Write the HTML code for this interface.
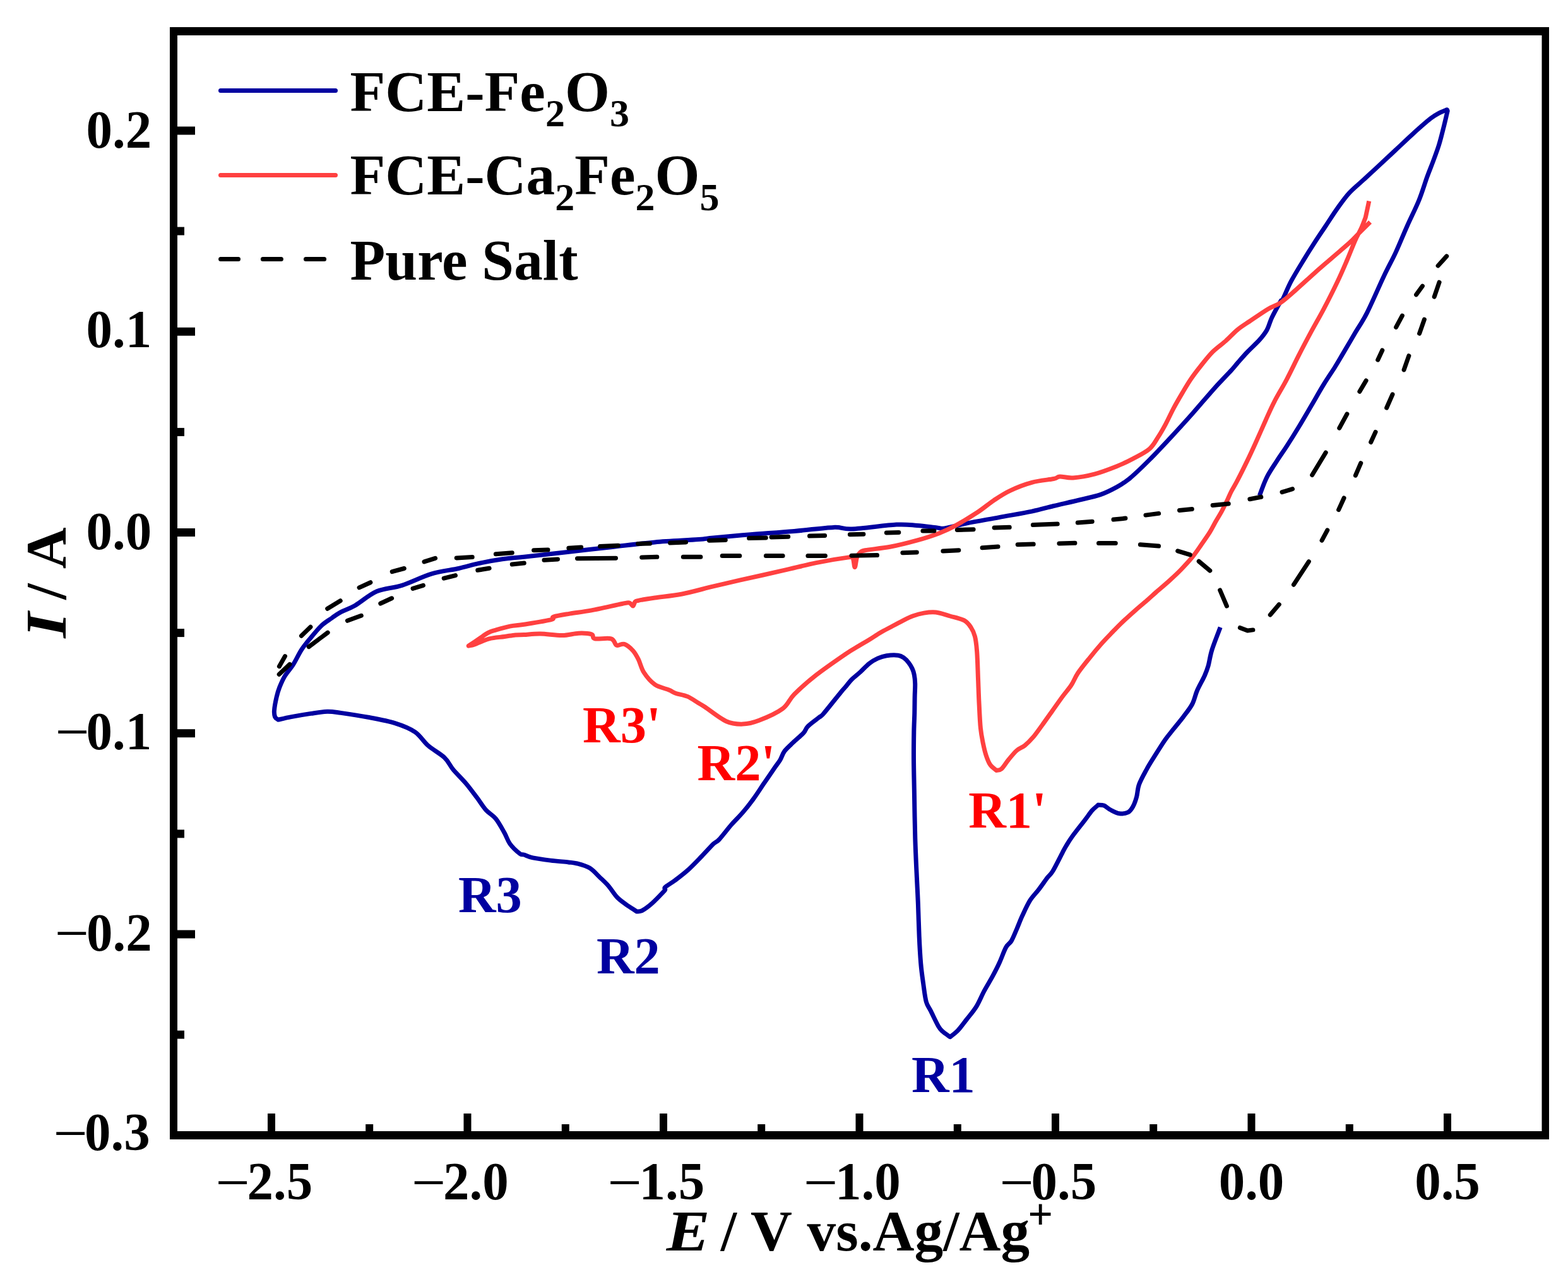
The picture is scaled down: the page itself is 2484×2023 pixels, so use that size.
<!DOCTYPE html><html><head><meta charset="utf-8"><title>CV curves</title><style>html,body{margin:0;padding:0;background:#fff;}svg{display:block;}</style></head><body>
<svg xmlns="http://www.w3.org/2000/svg" width="2484" height="2023" viewBox="0 0 2484 2023">
<rect x="0" y="0" width="2484" height="2023" fill="#fff"/>
<path d="M1995.3,785.2 C1997.2,780.3 2002.4,764.9 2007.0,755.8 C2011.6,746.7 2017.5,738.5 2022.7,730.4 C2027.9,722.2 2032.5,716.0 2038.4,706.9 C2044.3,697.8 2051.5,686.3 2058.0,675.5 C2064.5,664.7 2071.1,653.3 2077.6,642.2 C2084.1,631.1 2090.9,619.0 2097.1,608.9 C2103.3,598.8 2109.9,589.3 2114.8,581.5 C2119.7,573.7 2121.3,570.7 2126.5,561.9 C2131.7,553.1 2139.6,539.7 2146.1,528.6 C2152.6,517.5 2157.9,510.7 2165.7,495.3 C2173.5,479.9 2185.2,452.4 2192.8,436.5 C2200.4,420.6 2205.1,412.8 2211.2,399.6 C2217.3,386.4 2223.4,371.0 2229.6,357.2 C2235.8,343.4 2242.9,329.6 2248.1,316.7 C2253.3,303.8 2257.3,289.9 2261.0,279.8 C2264.7,269.7 2267.1,264.2 2270.2,255.9 C2273.3,247.6 2276.6,238.9 2279.4,230.0 C2282.2,221.1 2284.5,211.5 2286.8,202.4 C2289.1,193.3 2292.1,180.1 2293.2,175.7 C2293.0,175.4 2292.5,174.1 2292.3,173.8 C2290.5,174.6 2285.5,176.1 2281.2,178.4 C2276.9,180.7 2273.6,182.1 2266.5,187.6 C2259.4,193.1 2248.0,203.3 2238.8,211.6 C2229.6,219.9 2220.4,228.8 2211.2,237.4 C2202.0,246.0 2192.1,255.2 2183.5,263.2 C2174.9,271.2 2167.3,278.2 2159.6,285.3 C2151.9,292.4 2144.3,298.2 2137.5,305.6 C2130.7,313.0 2125.2,321.0 2119.0,329.6 C2112.8,338.2 2106.7,348.0 2100.6,357.2 C2094.5,366.4 2088.3,375.4 2082.2,384.9 C2076.0,394.4 2069.8,404.3 2063.7,414.4 C2057.5,424.5 2050.5,435.9 2045.3,445.7 C2040.1,455.5 2035.2,468.1 2032.4,473.4 C2029.6,478.7 2031.5,472.7 2028.6,477.6 C2025.7,482.6 2018.5,495.6 2014.9,503.1 C2011.3,510.6 2010.3,516.8 2007.0,522.7 C2003.7,528.6 2000.5,532.5 1995.3,538.4 C1990.1,544.3 1981.6,551.8 1975.7,558.0 C1969.8,564.2 1964.2,570.8 1960.0,575.6 C1955.8,580.4 1956.5,580.2 1950.6,586.7 C1944.7,593.2 1934.7,603.1 1924.6,614.3 C1914.5,625.5 1901.6,641.0 1890.1,654.0 C1878.6,667.0 1867.0,679.7 1855.5,692.1 C1844.0,704.5 1831.9,717.5 1821.0,728.4 C1810.1,739.3 1798.6,750.5 1789.9,757.7 C1781.2,764.9 1776.9,767.3 1769.1,771.6 C1761.3,775.9 1753.0,780.2 1743.2,783.6 C1733.4,787.0 1722.3,789.0 1710.0,792.0 C1697.7,795.0 1681.8,798.5 1669.2,801.5 C1656.6,804.5 1649.0,807.1 1634.6,810.1 C1620.2,813.1 1600.1,816.4 1582.8,819.6 C1565.5,822.8 1545.4,826.2 1531.0,829.1 C1516.6,832.0 1504.2,835.8 1496.4,836.9 C1488.6,838.0 1491.5,836.7 1484.3,836.0 C1477.1,835.3 1463.9,833.4 1453.2,832.6 C1442.5,831.8 1437.2,830.2 1420.0,831.1 C1402.8,832.0 1366.4,837.3 1349.8,838.0 C1333.2,838.7 1335.7,834.8 1320.4,835.4 C1305.1,836.0 1280.1,839.6 1258.2,841.5 C1236.3,843.4 1210.5,845.0 1189.1,846.7 C1167.7,848.5 1143.8,850.7 1130.0,852.0 C1116.2,853.3 1121.9,853.5 1106.5,854.6 C1091.1,855.8 1060.5,856.9 1037.4,858.9 C1014.4,860.9 991.2,864.1 968.2,866.7 C945.2,869.3 922.1,871.8 899.1,874.4 C876.1,877.0 847.2,880.3 830.0,882.2 C812.8,884.1 807.8,884.0 795.7,885.8 C783.7,887.5 769.2,890.2 757.7,892.7 C746.2,895.2 739.0,897.8 726.6,900.5 C714.2,903.2 698.4,904.6 683.4,909.1 C668.4,913.6 651.2,922.7 636.8,927.3 C622.4,931.9 609.4,931.5 597.0,936.8 C584.6,942.1 572.0,953.7 562.5,959.2 C553.0,964.7 546.1,966.3 540.0,969.6 C533.9,972.9 530.9,975.4 525.8,979.0 C520.7,982.6 514.9,985.8 509.4,991.0 C503.9,996.2 497.8,1003.7 492.6,1010.0 C487.4,1016.3 482.7,1021.6 478.0,1028.7 C473.3,1035.8 469.1,1045.5 464.6,1052.6 C460.1,1059.7 454.7,1065.2 451.1,1071.3 C447.5,1077.3 445.0,1083.4 442.8,1088.9 C440.6,1094.4 439.5,1098.4 438.1,1104.4 C436.7,1110.5 434.9,1120.0 434.5,1125.2 C434.1,1130.4 434.6,1133.1 435.6,1135.6 C436.6,1138.1 439.9,1139.4 440.7,1140.2 C444.2,1139.4 452.9,1137.2 461.5,1135.6 C470.1,1134.0 483.1,1131.8 492.6,1130.4 C502.1,1129.0 510.6,1127.5 518.5,1127.3 C526.4,1127.1 529.2,1127.9 540.0,1129.4 C550.8,1130.9 568.8,1133.6 583.2,1136.3 C597.6,1139.0 614.0,1141.9 626.4,1145.8 C638.8,1149.7 648.9,1153.7 657.5,1159.6 C666.1,1165.5 670.4,1174.4 678.2,1181.2 C686.0,1188.0 697.6,1193.9 704.2,1200.2 C710.8,1206.5 712.2,1212.3 718.0,1219.2 C723.8,1226.1 732.4,1234.2 738.7,1241.7 C745.0,1249.2 750.8,1257.3 756.0,1264.2 C761.2,1271.1 764.9,1277.7 769.8,1283.2 C774.7,1288.7 780.5,1291.0 785.4,1297.0 C790.3,1303.0 795.5,1312.9 799.2,1319.5 C802.9,1326.1 803.8,1331.2 807.8,1336.7 C811.8,1342.2 819.7,1349.4 823.4,1352.3 C827.1,1355.2 826.5,1352.9 830.0,1354.0 C833.5,1355.1 837.1,1357.4 844.1,1358.9 C851.1,1360.4 862.8,1361.9 872.2,1363.1 C881.6,1364.3 893.4,1365.1 900.4,1365.9 C907.4,1366.7 908.8,1366.5 914.4,1368.0 C920.0,1369.5 928.2,1371.6 934.1,1375.1 C940.0,1378.6 944.7,1384.5 949.6,1389.2 C954.5,1393.9 959.0,1397.8 963.7,1403.2 C968.4,1408.6 973.0,1416.6 977.7,1421.5 C982.4,1426.4 986.6,1429.0 991.8,1432.8 C997.0,1436.5 1005.9,1442.1 1008.7,1444.0 C1010.1,1443.8 1013.1,1444.7 1017.1,1442.6 C1021.1,1440.5 1027.2,1436.1 1032.6,1431.4 C1038.0,1426.7 1046.0,1418.2 1049.5,1414.5 C1053.0,1410.8 1053.0,1411.0 1053.7,1409.5 C1054.4,1408.0 1051.3,1407.8 1053.9,1405.3 C1056.5,1402.8 1063.1,1399.4 1069.2,1394.8 C1075.3,1390.2 1083.3,1384.2 1090.3,1377.9 C1097.3,1371.6 1104.8,1363.6 1111.4,1356.8 C1118.0,1350.0 1125.4,1341.6 1130.0,1337.1 C1134.6,1332.6 1134.4,1335.1 1139.2,1330.0 C1144.0,1324.9 1152.7,1313.3 1158.8,1306.3 C1164.9,1299.3 1170.3,1294.5 1176.1,1287.8 C1181.9,1281.1 1187.7,1273.8 1193.4,1265.9 C1199.2,1258.0 1204.8,1249.0 1210.6,1240.6 C1216.3,1232.2 1223.7,1221.4 1227.9,1215.3 C1232.1,1209.2 1233.5,1207.9 1236.0,1203.7 C1238.5,1199.5 1239.5,1194.5 1242.9,1189.9 C1246.4,1185.3 1251.7,1180.9 1256.7,1176.1 C1261.7,1171.3 1269.1,1165.3 1272.9,1161.1 C1276.8,1156.9 1275.8,1154.7 1279.8,1150.7 C1283.8,1146.7 1292.8,1140.4 1297.0,1136.9 C1301.2,1133.5 1299.3,1136.7 1305.1,1130.0 C1310.9,1123.3 1326.2,1103.8 1332.0,1096.7 C1337.8,1089.6 1337.1,1091.0 1340.0,1087.6 C1342.9,1084.2 1345.4,1080.3 1349.2,1076.5 C1353.0,1072.7 1358.4,1068.7 1363.0,1064.5 C1367.6,1060.3 1372.3,1054.8 1376.9,1051.2 C1381.5,1047.6 1386.1,1045.0 1390.7,1042.9 C1395.3,1040.8 1399.1,1039.5 1404.5,1038.7 C1409.9,1037.9 1418.3,1037.6 1422.9,1038.2 C1427.5,1038.8 1429.4,1040.5 1432.2,1042.4 C1435.0,1044.3 1437.3,1047.0 1439.5,1049.8 C1441.7,1052.6 1443.6,1055.8 1445.1,1059.0 C1446.6,1062.2 1447.5,1065.1 1448.3,1069.1 C1449.1,1073.1 1449.5,1077.5 1449.7,1082.9 C1449.9,1088.3 1449.4,1093.7 1449.2,1101.4 C1449.0,1109.1 1449.0,1119.2 1448.8,1129.0 C1448.6,1138.8 1448.0,1147.6 1447.8,1160.0 C1447.6,1172.4 1447.4,1188.2 1447.5,1203.2 C1447.6,1218.2 1447.9,1229.2 1448.3,1250.0 C1448.7,1270.8 1449.1,1303.8 1449.8,1327.8 C1450.5,1351.8 1451.8,1376.7 1452.6,1394.0 C1453.4,1411.3 1453.8,1416.8 1454.4,1431.8 C1455.0,1446.8 1455.5,1467.8 1456.2,1483.7 C1456.9,1499.6 1457.7,1514.0 1458.8,1526.9 C1459.9,1539.9 1461.7,1551.3 1463.1,1561.4 C1464.5,1571.5 1465.5,1580.8 1467.4,1587.4 C1469.3,1594.0 1471.1,1594.9 1474.3,1601.2 C1477.5,1607.5 1483.2,1619.9 1486.4,1625.4 C1489.6,1630.9 1490.2,1631.1 1493.3,1634.0 C1496.4,1636.9 1503.1,1641.2 1505.1,1642.7 C1507.2,1641.0 1513.1,1636.9 1517.5,1632.3 C1521.9,1627.7 1526.4,1621.3 1531.3,1615.0 C1536.2,1608.7 1542.3,1601.8 1546.9,1594.3 C1551.5,1586.8 1554.7,1578.2 1559.0,1570.1 C1563.3,1562.0 1568.8,1553.4 1572.8,1545.9 C1576.8,1538.4 1579.8,1532.7 1583.2,1525.2 C1586.7,1517.7 1590.3,1506.8 1593.5,1501.0 C1596.7,1495.2 1599.3,1495.5 1602.2,1490.6 C1605.1,1485.7 1607.9,1478.2 1610.8,1471.6 C1613.7,1465.0 1616.0,1458.3 1619.5,1450.8 C1623.0,1443.3 1627.3,1433.6 1631.6,1426.7 C1635.9,1419.8 1640.8,1415.5 1645.4,1409.4 C1650.0,1403.4 1655.5,1395.3 1659.2,1390.4 C1662.9,1385.5 1663.8,1386.6 1667.8,1380.0 C1671.8,1373.4 1679.6,1357.5 1683.1,1350.8 C1686.6,1344.1 1686.4,1344.3 1689.0,1340.0 C1691.6,1335.7 1693.8,1331.7 1698.7,1325.0 C1703.6,1318.3 1713.1,1306.4 1718.3,1299.6 C1723.5,1292.8 1726.5,1288.0 1730.1,1283.9 C1733.7,1279.8 1738.3,1276.6 1739.9,1275.1 C1741.4,1275.3 1745.5,1274.8 1748.7,1276.1 C1752.0,1277.4 1755.3,1280.9 1759.4,1283.0 C1763.5,1285.1 1768.6,1288.1 1773.2,1288.8 C1777.8,1289.5 1783.3,1288.7 1786.9,1286.9 C1790.5,1285.1 1792.4,1282.1 1794.7,1278.0 C1797.0,1273.9 1799.0,1268.3 1800.6,1262.4 C1802.2,1256.5 1801.9,1250.0 1804.5,1242.8 C1807.1,1235.6 1812.3,1226.5 1816.2,1219.3 C1820.1,1212.1 1823.1,1207.5 1828.0,1199.7 C1832.9,1191.9 1840.4,1179.8 1845.6,1172.3 C1850.8,1164.8 1854.4,1160.9 1859.3,1154.7 C1864.2,1148.5 1870.1,1141.6 1875.0,1135.1 C1879.9,1128.6 1885.1,1122.3 1888.7,1115.5 C1892.3,1108.7 1893.2,1101.5 1896.5,1094.0 C1899.8,1086.5 1905.4,1077.0 1908.3,1070.5 C1911.2,1064.0 1912.1,1061.6 1914.1,1054.8 C1916.0,1048.0 1916.8,1039.6 1920.0,1029.4 C1923.2,1019.2 1931.0,999.7 1933.2,993.8" fill="none" stroke="#0000A0" stroke-width="7" stroke-linejoin="round" stroke-linecap="butt"/>
<path d="M2168.8,318.5 C2167.9,322.8 2164.2,340.0 2163.3,344.3 C2162.1,347.4 2158.7,356.7 2155.9,362.8 C2153.1,368.9 2150.4,372.9 2146.7,381.2 C2143.0,389.5 2138.4,401.8 2133.8,412.5 C2129.2,423.2 2125.1,432.9 2119.0,445.7 C2112.9,458.5 2104.0,476.2 2097.1,489.4 C2090.2,502.6 2084.1,512.6 2077.6,524.7 C2071.1,536.8 2064.5,549.2 2058.0,561.9 C2051.5,574.6 2044.9,588.7 2038.4,601.1 C2031.9,613.5 2024.3,625.5 2018.8,636.3 C2013.2,647.1 2010.0,654.9 2005.1,665.7 C2000.2,676.5 1994.3,690.2 1989.4,701.0 C1984.5,711.8 1980.6,720.3 1975.7,730.4 C1970.8,740.5 1964.2,753.7 1960.0,761.7 C1955.8,769.7 1953.2,773.5 1950.6,778.5 C1948.0,783.5 1947.0,786.7 1944.4,792.0 C1941.8,797.3 1938.3,804.7 1935.2,810.4 C1932.1,816.1 1929.1,820.7 1926.0,826.1 C1922.9,831.5 1920.6,836.6 1916.8,842.7 C1913.0,848.9 1907.6,856.4 1903.0,863.0 C1898.4,869.6 1894.5,875.7 1889.1,882.3 C1883.7,888.9 1876.8,896.3 1870.7,902.6 C1864.6,908.9 1858.9,914.1 1852.3,920.1 C1845.7,926.1 1836.8,933.5 1831.1,938.5 C1825.4,943.5 1823.4,945.6 1818.2,950.1 C1813.0,954.6 1805.9,960.4 1799.8,965.8 C1793.7,971.2 1787.6,976.6 1781.4,982.4 C1775.2,988.2 1769.1,994.5 1762.9,1000.8 C1756.8,1007.1 1750.6,1013.3 1744.5,1020.2 C1738.4,1027.1 1732.2,1034.6 1726.1,1042.3 C1719.9,1050.0 1712.4,1059.1 1707.6,1066.3 C1702.8,1073.5 1701.1,1079.3 1697.0,1085.5 C1692.9,1091.7 1688.2,1096.7 1683.2,1103.5 C1678.2,1110.3 1672.5,1118.6 1667.1,1126.1 C1661.7,1133.6 1656.1,1141.7 1651.0,1148.7 C1645.9,1155.7 1641.1,1162.7 1636.5,1168.1 C1631.9,1173.5 1627.8,1177.5 1623.5,1181.0 C1619.2,1184.5 1614.9,1185.2 1610.6,1189.0 C1606.3,1192.8 1601.7,1198.7 1597.7,1203.5 C1593.7,1208.3 1589.7,1215.3 1586.5,1218.1 C1583.3,1220.9 1579.8,1220.1 1578.4,1220.5 C1576.8,1219.0 1571.4,1215.5 1568.7,1211.6 C1566.0,1207.7 1564.2,1202.8 1562.3,1197.1 C1560.4,1191.4 1558.9,1185.0 1557.4,1177.7 C1555.9,1170.4 1554.5,1164.2 1553.4,1153.5 C1552.3,1142.8 1551.7,1126.6 1551.0,1113.2 C1550.3,1099.8 1550.0,1086.3 1549.4,1072.9 C1548.9,1059.5 1548.5,1043.3 1547.7,1032.6 C1546.9,1021.8 1546.1,1014.8 1544.5,1008.4 C1542.9,1002.0 1540.9,998.1 1538.1,993.9 C1535.3,989.6 1533.0,985.9 1527.5,982.9 C1522.0,979.9 1512.5,978.1 1505.0,976.0 C1497.5,973.9 1489.5,970.8 1482.6,970.0 C1475.7,969.2 1469.7,970.1 1463.7,971.1 C1457.7,972.1 1452.2,973.6 1446.4,975.7 C1440.6,977.8 1434.9,980.9 1429.1,983.8 C1423.3,986.7 1417.5,989.9 1411.8,993.0 C1406.0,996.1 1400.3,998.8 1394.6,1002.2 C1388.8,1005.6 1383.1,1009.7 1377.3,1013.2 C1371.5,1016.8 1366.2,1019.7 1360.0,1023.5 C1353.8,1027.3 1351.2,1028.2 1340.0,1035.9 C1328.8,1043.6 1306.4,1058.9 1292.8,1069.6 C1279.2,1080.3 1267.0,1091.2 1258.2,1100.0 C1249.4,1108.8 1249.2,1115.7 1239.9,1122.6 C1230.6,1129.5 1213.0,1137.2 1202.4,1141.3 C1191.8,1145.4 1185.1,1146.9 1176.5,1147.1 C1167.9,1147.3 1160.5,1147.2 1150.6,1142.7 C1140.6,1138.2 1124.1,1124.8 1116.8,1120.0 C1109.5,1115.2 1111.1,1116.6 1106.5,1113.8 C1101.9,1111.0 1095.2,1106.0 1089.2,1103.4 C1083.2,1100.8 1075.1,1099.9 1070.2,1098.2 C1065.3,1096.5 1065.3,1095.3 1059.8,1093.0 C1054.3,1090.7 1044.0,1089.0 1037.4,1084.4 C1030.8,1079.8 1024.4,1072.0 1020.1,1065.4 C1015.8,1058.8 1014.3,1050.4 1011.4,1044.6 C1008.5,1038.8 1006.5,1034.8 1002.8,1030.8 C999.1,1026.8 993.3,1021.8 989.0,1020.4 C984.7,1019.0 980.4,1023.6 976.9,1022.2 C973.4,1020.8 974.0,1013.5 968.2,1011.8 C962.4,1010.1 947.5,1012.9 942.3,1011.8 C937.1,1010.6 941.4,1006.3 937.1,1004.9 C932.8,1003.5 924.2,1002.9 916.4,1003.2 C908.6,1003.5 900.6,1006.5 890.5,1006.6 C880.4,1006.7 866.0,1004.2 855.9,1004.0 C845.8,1003.8 836.6,1005.2 830.0,1005.5 C823.4,1005.8 821.6,1005.4 816.5,1005.9 C811.4,1006.4 806.1,1007.5 799.2,1008.5 C792.3,1009.5 782.8,1009.9 775.0,1011.9 C767.2,1013.9 758.0,1018.7 752.5,1020.6 C747.0,1022.5 743.9,1022.8 742.2,1023.2 C743.9,1022.1 747.3,1019.8 752.5,1016.3 C757.7,1012.8 767.8,1005.4 773.3,1002.4 C778.8,999.4 779.6,999.8 785.4,998.1 C791.1,996.4 800.4,993.6 807.8,992.1 C815.2,990.6 819.1,991.0 830.0,989.3 C840.9,987.5 865.4,983.6 873.2,981.6 C881.0,979.6 872.1,978.6 877.0,977.0 C881.9,975.4 892.6,973.8 902.6,972.1 C912.6,970.4 923.3,969.5 937.1,966.9 C950.9,964.3 975.5,958.5 985.5,956.5 C995.5,954.5 994.1,954.4 997.0,955.0 C999.9,955.6 1001.3,960.2 1002.8,960.0 C1004.3,959.8 1004.6,955.0 1006.0,953.5 C1007.4,952.0 1006.2,952.4 1011.4,951.3 C1016.6,950.2 1025.9,948.7 1037.4,947.0 C1048.9,945.3 1065.2,944.0 1080.6,941.0 C1096.0,938.0 1114.8,932.5 1130.0,928.9 C1145.2,925.3 1153.3,923.4 1171.8,919.2 C1190.3,915.0 1220.8,908.3 1241.0,903.7 C1261.2,899.1 1275.5,895.1 1292.8,891.6 C1310.1,888.1 1334.9,884.2 1344.6,882.9 C1354.3,881.6 1349.4,881.4 1351.0,884.0 C1352.6,886.6 1353.1,898.7 1354.2,898.5 C1355.3,898.3 1356.2,886.8 1357.5,883.0 C1358.8,879.2 1359.7,877.9 1361.9,876.0 C1364.1,874.1 1362.6,873.3 1370.6,871.7 C1378.6,870.1 1396.2,868.9 1410.0,866.3 C1423.8,863.7 1440.2,859.5 1453.2,855.9 C1466.2,852.3 1477.7,848.6 1487.8,844.7 C1497.9,840.8 1503.6,838.1 1513.7,832.6 C1523.8,827.1 1538.1,818.4 1548.2,811.8 C1558.3,805.2 1565.6,798.5 1574.2,792.8 C1582.8,787.0 1590.0,782.0 1600.1,777.3 C1610.2,772.5 1623.1,767.4 1634.6,764.3 C1646.1,761.2 1661.8,760.0 1669.2,758.5 C1676.6,757.0 1673.9,755.3 1679.0,755.0 C1684.1,754.7 1690.7,757.6 1700.0,756.9 C1709.3,756.2 1723.1,753.8 1734.6,750.8 C1746.1,747.8 1759.0,742.7 1769.1,738.7 C1779.2,734.7 1786.3,731.2 1795.0,726.6 C1803.7,722.0 1814.4,716.9 1821.0,711.1 C1827.6,705.4 1830.5,698.7 1834.8,692.1 C1839.1,685.5 1842.9,678.8 1846.9,671.3 C1850.9,663.8 1854.7,655.2 1859.0,647.1 C1863.3,639.0 1868.2,630.7 1872.8,622.9 C1877.4,615.1 1881.7,607.7 1886.6,600.5 C1891.5,593.3 1896.4,586.9 1902.2,579.7 C1908.0,572.5 1914.6,563.9 1921.2,557.3 C1927.8,550.7 1935.4,545.8 1941.9,540.0 C1948.4,534.2 1953.7,527.9 1960.0,522.7 C1966.3,517.5 1971.4,514.5 1979.6,509.0 C1987.8,503.4 2000.8,494.3 2009.0,489.4 C2017.2,484.5 2021.4,484.5 2028.6,479.6 C2035.8,474.7 2043.2,467.8 2052.1,460.0 C2061.0,452.2 2072.6,441.3 2082.2,432.8 C2091.8,424.3 2100.6,416.8 2109.8,408.8 C2119.0,400.8 2130.4,391.3 2137.5,384.9 C2144.6,378.4 2146.7,375.6 2152.2,370.1 C2157.7,364.6 2167.5,354.8 2170.6,351.7" fill="none" stroke="#FF4040" stroke-width="7" stroke-linejoin="round" stroke-linecap="butt"/>
<path d="M442.4,1055.7 L451.5,1039.6 M477.5,1007.2 L491.9,993.3 M518.7,964.3 L539.2,951.8 M569.1,930.9 L586.9,922.7 M621.2,905.6 L640.3,900.5 M672.0,889.9 L689.6,884.3 M723.2,883.9 L748.2,882.5 M785.4,877.7 L811.3,875.7 M845.6,871.7 L868.0,871.1 M900.9,868.2 L920.7,866.9 M950.6,865.6 L979.3,864.3 M1010.6,861.4 L1029.5,861.1 M1061.6,860.0 L1086.6,859.0 M1123.5,856.2 L1149.3,855.4 M1186.6,852.6 L1213.3,851.9 M1222.0,850.9 L1248.7,850.2 M1282.5,849.1 L1306.6,848.5 M1346.4,846.7 L1367.9,846.3 M1404.3,844.0 L1423.8,843.4 M1461.9,840.9 L1479.9,840.9 M1516.3,839.4 L1542.1,838.7 M1575.1,835.9 L1599.2,835.3 M1636.4,831.6 L1675.2,830.1 M1707.3,828.0 L1730.2,826.3 M1764.0,823.1 L1782.9,821.1 M1815.0,816.1 L1835.6,813.4 M1868.5,808.4 L1888.3,806.4 M1921.2,800.5 L1946.2,797.9 M1979.9,790.7 L1997.8,787.3 M2031.0,779.6 L2047.6,774.7 M2078.7,752.5 L2100.2,717.0 M2121.8,678.1 L2133.9,655.8 M2153.9,620.3 L2164.1,603.0 M2182.7,570.2 L2189.8,555.0 M2211.6,518.4 L2221.4,500.1 M2243.6,466.8 L2253.4,453.2 M2278.1,421.0 L2291.7,405.9 M2280.1,447.2 L2272.2,470.1 M2256.4,506.1 L2248.6,528.3 M2231.9,563.7 L2224.1,585.9 M2206.0,624.8 L2196.7,646.0 M2179.1,684.4 L2171.7,700.5 M2155.8,733.7 L2147.4,753.2 M2129.1,789.0 L2120.6,807.6 M2102.8,839.8 L2094.1,856.1 M2073.4,889.6 L2049.5,926.2 M2026.3,957.6 L2012.3,974.1 M1984.9,997.9 L1976.3,999.0 L1964.4,994.4 M1943.4,960.1 L1932.7,935.0 M1916.8,904.0 L1899.2,889.2 M1885.4,878.9 L1865.7,872.8 M1835.5,865.1 L1806.4,862.7 M1767.3,860.5 L1740.5,860.5 M1702.9,860.3 L1677.9,861.0 M1637.2,862.1 L1612.2,862.7 M1581.0,866.0 L1556.1,867.8 M1518.8,871.7 L1493.9,873.0 M1452.3,875.0 L1429.9,875.7 M1389.5,879.6 L1349.0,880.3 M1307.4,880.4 L1279.9,880.4 M1240.1,880.4 L1213.4,880.4 M1171.8,880.4 L1144.2,880.4 M1109.9,882.2 L1082.3,882.2 M1040.8,882.3 L1016.7,883.0 M975.5,884.3 L914.5,884.8 M883.5,885.9 L862.0,887.2 M830.3,892.1 L811.3,894.1 M775.1,900.2 L756.8,903.3 M721.5,911.6 L703.2,916.1 M670.5,927.4 L654.0,932.3 M620.6,947.8 L602.8,956.0 M572.3,975.3 L550.4,983.3 M519.2,1002.1 L489.2,1024.6 M459.0,1052.4 L442.2,1068.3" fill="none" stroke="#000" stroke-width="7" stroke-linejoin="round" stroke-linecap="round"/>
<g fill="#000">
<rect x="269" y="43" width="12" height="1762"/>
<rect x="269" y="43" width="2185" height="13"/>
<rect x="2442.5" y="43" width="11.5" height="1762"/>
<rect x="269" y="1792" width="2185" height="13"/>
<rect x="281" y="1632.6" width="11" height="13"/>
<rect x="281" y="1473.5" width="28" height="13"/>
<rect x="281" y="1314.4" width="11" height="13"/>
<rect x="281" y="1155.2" width="28" height="13"/>
<rect x="281" y="996.1" width="11" height="13"/>
<rect x="281" y="837.0" width="28" height="13"/>
<rect x="281" y="677.9" width="11" height="13"/>
<rect x="281" y="518.8" width="28" height="13"/>
<rect x="281" y="359.6" width="11" height="13"/>
<rect x="281" y="200.5" width="28" height="13"/>
<rect x="424.0" y="1764" width="12" height="28"/>
<rect x="579.2" y="1781" width="12" height="11"/>
<rect x="734.5" y="1764" width="12" height="28"/>
<rect x="889.8" y="1781" width="12" height="11"/>
<rect x="1045.0" y="1764" width="12" height="28"/>
<rect x="1200.2" y="1781" width="12" height="11"/>
<rect x="1355.5" y="1764" width="12" height="28"/>
<rect x="1510.8" y="1781" width="12" height="11"/>
<rect x="1666.0" y="1764" width="12" height="28"/>
<rect x="1821.2" y="1781" width="12" height="11"/>
<rect x="1976.5" y="1764" width="12" height="28"/>
<rect x="2131.8" y="1781" width="12" height="11"/>
<rect x="2287.0" y="1764" width="12" height="28"/>
</g>
<g font-family="Liberation Serif, 'Times New Roman', serif" font-weight="bold" font-size="83" fill="#000">
<text transform="translate(240.3,233.9) scale(1,1.03)" text-anchor="end">0.2</text>
<text transform="translate(240.3,550.3) scale(1,1.03)" text-anchor="end">0.1</text>
<text transform="translate(240.3,870.3) scale(1,1.03)" text-anchor="end">0.0</text>
<text transform="translate(240.3,1187.0) scale(1,1.03)" text-anchor="end">0.1</text>
<text transform="translate(240.8,1505.8) scale(1,1.03)" text-anchor="end">0.2</text>
<text transform="translate(237.8,1822.4) scale(1,1.03)" text-anchor="end">0.3</text>
</g>
<text transform="translate(86.92,1182.33) scale(1.161,0.811)" font-size="83" font-family="Liberation Serif, 'Times New Roman', serif" font-weight="bold">&#8722;</text>
<text transform="translate(86.22,1501.13) scale(1.161,0.811)" font-size="83" font-family="Liberation Serif, 'Times New Roman', serif" font-weight="bold">&#8722;</text>
<text transform="translate(84.12,1817.73) scale(1.161,0.811)" font-size="83" font-family="Liberation Serif, 'Times New Roman', serif" font-weight="bold">&#8722;</text>
<g font-family="Liberation Serif, 'Times New Roman', serif" font-weight="bold" font-size="83" fill="#000">
<text transform="translate(391.6,1900.0) scale(1,1.03)">2.5</text>
<text transform="translate(702.1,1900.0) scale(1,1.03)">2.0</text>
<text transform="translate(1012.6,1900.0) scale(1,1.03)">1.5</text>
<text transform="translate(1323.1,1900.0) scale(1,1.03)">1.0</text>
<text transform="translate(1633.6,1900.0) scale(1,1.03)">0.5</text>
<text transform="translate(1982.5,1900.0) scale(1,1.03)" text-anchor="middle">0.0</text>
<text transform="translate(2293.0,1900.0) scale(1,1.03)" text-anchor="middle">0.5</text>
</g>
<text transform="translate(340.92,1895.53) scale(1.161,0.811)" font-size="83" font-family="Liberation Serif, 'Times New Roman', serif" font-weight="bold">&#8722;</text>
<text transform="translate(651.42,1895.53) scale(1.161,0.811)" font-size="83" font-family="Liberation Serif, 'Times New Roman', serif" font-weight="bold">&#8722;</text>
<text transform="translate(961.92,1895.53) scale(1.161,0.811)" font-size="83" font-family="Liberation Serif, 'Times New Roman', serif" font-weight="bold">&#8722;</text>
<text transform="translate(1272.42,1895.53) scale(1.161,0.811)" font-size="83" font-family="Liberation Serif, 'Times New Roman', serif" font-weight="bold">&#8722;</text>
<text transform="translate(1582.92,1895.53) scale(1.161,0.811)" font-size="83" font-family="Liberation Serif, 'Times New Roman', serif" font-weight="bold">&#8722;</text>
<g font-size="91.3" font-family="Liberation Serif, 'Times New Roman', serif" font-weight="bold" fill="#000">
<text transform="translate(1055.76,1981) scale(1.13,1)" font-style="italic">E</text>
<text x="1141.8" y="1981">/</text>
<text x="1189.1" y="1981">V</text>
<text x="1278.6" y="1981">vs.Ag/Ag</text>
<text x="1628.3" y="1946.7" font-size="70">+</text>
<g transform="translate(103.5,1011.7) rotate(-90)">
<text transform="translate(1.03,0) scale(1.15,1)" font-style="italic">I</text>
<text x="62.0" y="0">/</text>
<text x="110.4" y="0">A</text>
</g></g>
<line x1="349.5" y1="143.5" x2="531.5" y2="143.5" stroke="#0000A0" stroke-width="7" stroke-linecap="round"/>
<line x1="349.5" y1="277.5" x2="531.5" y2="277.5" stroke="#FF4040" stroke-width="7" stroke-linecap="round"/>
<line x1="349.6" y1="410.5" x2="377.5" y2="410.5" stroke="#000" stroke-width="7" stroke-linecap="round"/>
<line x1="416.4" y1="410.5" x2="445.4" y2="410.5" stroke="#000" stroke-width="7" stroke-linecap="round"/>
<line x1="484.5" y1="410.5" x2="513.6" y2="410.5" stroke="#000" stroke-width="7" stroke-linecap="round"/>
<text x="554.6" y="175.5" font-size="91.3" font-family="Liberation Serif, 'Times New Roman', serif" font-weight="bold">FCE-Fe<tspan font-size="62" dy="24.5">2</tspan><tspan dy="-24.5">O</tspan><tspan font-size="62" dy="24.5">3</tspan></text>
<text x="554.6" y="308.2" font-size="91.3" font-family="Liberation Serif, 'Times New Roman', serif" font-weight="bold">FCE-Ca<tspan font-size="62" dy="24.5">2</tspan><tspan dy="-24.5">Fe</tspan><tspan font-size="62" dy="24.5">2</tspan><tspan dy="-24.5">O</tspan><tspan font-size="62" dy="24.5">5</tspan></text>
<text x="554.6" y="442.5" font-size="91.3" font-family="Liberation Serif, 'Times New Roman', serif" font-weight="bold">Pure Salt</text>
<text x="923.1" y="1175.9" font-size="82.5" fill="#FF0000" font-family="Liberation Serif, 'Times New Roman', serif" font-weight="bold">R3'</text>
<text x="1104.6" y="1236.3" font-size="82.5" fill="#FF0000" font-family="Liberation Serif, 'Times New Roman', serif" font-weight="bold">R2'</text>
<text x="1534.2" y="1311.3" font-size="82.5" fill="#FF0000" font-family="Liberation Serif, 'Times New Roman', serif" font-weight="bold">R1'</text>
<text x="726.0" y="1445.4" font-size="82.5" fill="#0000A0" font-family="Liberation Serif, 'Times New Roman', serif" font-weight="bold">R3</text>
<text x="944.9" y="1541.9" font-size="82.5" fill="#0000A0" font-family="Liberation Serif, 'Times New Roman', serif" font-weight="bold">R2</text>
<text x="1444.0" y="1729.5" font-size="82.5" fill="#0000A0" font-family="Liberation Serif, 'Times New Roman', serif" font-weight="bold">R1</text>
</svg></body></html>
